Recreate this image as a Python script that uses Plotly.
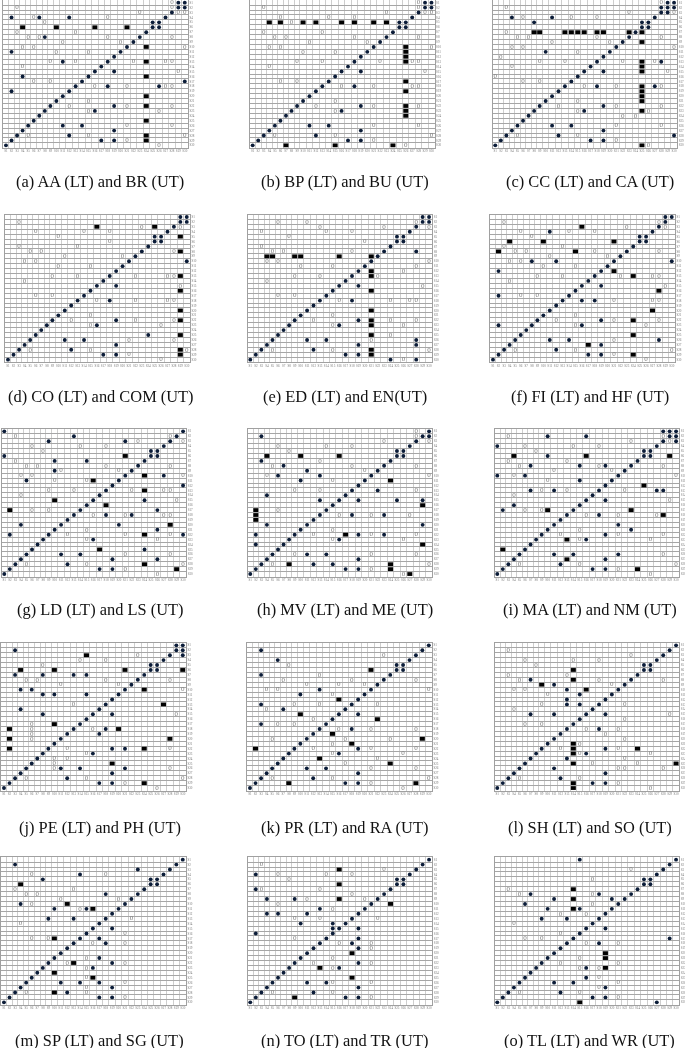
import plotly.graph_objects as go

LABELS = ["S%d" % i for i in range(1, 31)]
COL_WIDTHS = [5.55] * 9 + [6.42] * 21
DIAG = {1:[30],2:[29],3:[28],4:[27],5:[26],6:[25],7:[24],8:[23],9:[22],10:[21],11:[20],12:[19],13:[18],14:[17],15:[16],
        16:[15],17:[14],18:[13],19:[12],20:[11],21:[10],22:[9],23:[8],24:[7],25:[6],26:[5],27:[4],28:[3],29:[2],30:[1]}

CAPTIONS = ["(a) AA (LT) and BR (UT)","(b) BP (LT) and BU (UT)","(c) CC (LT) and CA (UT)",
            "(d) CO (LT) and COM (UT)","(e) ED (LT) and EN(UT)","(f) FI (LT) and HF (UT)",
            "(g) LD (LT) and LS (UT)","(h) MV (LT) and ME (UT)","(i) MA (LT) and NM (UT)",
            "(j) PE (LT) and PH (UT)","(k) PR (LT) and RA (UT)","(l) SH (LT) and SO (UT)",
            "(m) SP (LT) and SG (UT)","(n) TO (LT) and TR (UT)","(o) TL (LT) and WR (UT)"]

# Each mapping: row -> columns
A_DOTS = {1:[29],2:[30],4:[2,7,12],5:[25],6:[26],8:[8],11:[2],13:[11],15:[19],16:[4],17:[30],18:[18,26],19:[2],22:[19],23:[16],26:[11,14],27:[19],28:[12],29:[17,19]}
A_SQ = {6:[4,10,16,21],10:[24],13:[24],16:[24],20:[24],22:[24],25:[24],28:[24],29:[24]}
A_OPEN = {1:[28],2:[3,28],3:[23,29,30],4:[6,18],5:[8],7:[3,13],8:[5,7,18,28],9:[11,20],10:[4,6,30],11:[10,15],13:[9,13,22,27,28],14:[4],15:[29],17:[6,9],18:[16,21,27,28],21:[15],22:[12,21,28],23:[15,26],26:[21,28],28:[5,15,30],29:[21],30:[26]}

B_DOTS = {1:[29],2:[30],5:[25],6:[26],15:[19],18:[18],22:[19],23:[16],26:[11,14],27:[19],28:[12],29:[17,19]}
B_SQ = {5:[4,6,10,12,16,18,21,23],10:[26],11:[26],12:[26],13:[26],17:[26],19:[26],22:[26],23:[26],24:[26],30:[7,15,24]}
B_OPEN = {1:[28],2:[3,28],3:[23,29,30],4:[6,14,18],5:[8],7:[3,13],8:[5,7,18,28],9:[11,20],10:[4,6,30],11:[10,15],13:[9,13,22,27,28],14:[4],15:[29],17:[6,9],18:[16,21,27,28],21:[15],22:[12,21,28],23:[15],26:[21,28],28:[5,15,30],29:[21],30:[26]}

C_DOTS = {1:[29],2:[28,30],3:[29],4:[4,11],5:[8,25],6:[26],11:[10],13:[28],15:[19],18:[18,27],22:[19],23:[16],26:[11,14],27:[19],28:[12,30],29:[17,19]}
C_SQ = {7:[8,9,13,14,15,16,18,19,23,25],9:[25],13:[25],14:[25],15:[25],18:[25],19:[25],20:[25],21:[25],23:[25],30:[25]}
C_OPEN = {1:[28],2:[3],3:[23,30],4:[6,14,18],7:[3],8:[5,7,18,28],9:[11,20],10:[4,6,30],11:[15],12:[2],13:[9,13,22,27],14:[4],15:[29],16:[1],17:[6,9],18:[16,21,28],21:[15],22:[12,21,28],23:[15,26],24:[22,24],26:[21,28],28:[5,15],29:[21],30:[26]}

D_DOTS = {1:[29],2:[30],5:[25],6:[26],10:[30],15:[19],18:[18],22:[19],23:[16],25:[24],26:[11,14],27:[19],28:[12],29:[17,19]}
D_SQ = {3:[16,25],5:[29],8:[29],13:[29],16:[29],20:[29],22:[29],25:[29],28:[29],29:[29]}
D_OPEN = {2:[3],3:[23,29],4:[6,14,18],5:[10],6:[18],7:[3,13],8:[5,7,28],9:[11,20],10:[4,6],11:[10,15],13:[9,13,22,27,28],14:[4],15:[29],17:[6,9],18:[16,22,27,28],21:[15],22:[12,22,28],23:[15,26],26:[21,28],28:[5,15,30],29:[21],30:[26]}

E_DOTS = {1:[29],2:[30],5:[25],6:[26],8:[28],15:[19],18:[18],22:[19],23:[16],26:[11,14,28],27:[19,28],28:[12],29:[17,19],30:[24,28]}
E_SQ = {9:[4,5,9,10,16,21],12:[21],13:[21],16:[21],20:[21],22:[21],23:[21],25:[21],28:[21],29:[21]}
E_OPEN = {2:[6,11,28],3:[13,23,30],4:[3,14,18],5:[8],6:[20],7:[3],8:[5,7,18],10:[4,6,30],11:[10,15,28],12:[26],13:[9,13,22],14:[4],15:[29],17:[6,9],18:[16,24,27,28],21:[15],22:[12,24,28],23:[15,26],25:[24],26:[21],28:[5,15,30],30:[26]}

F_DOTS = {1:[29],4:[11],5:[25],6:[26],10:[8,12,30],12:[2],15:[19],17:[2],18:[16,18],22:[19],23:[2,16],26:[11,14,28],27:[19],28:[12],29:[17,19]}
F_SQ = {3:[16],6:[4,10,21],8:[2,15],12:[21],13:[24],16:[28],20:[27],22:[24],25:[24],27:[17],29:[24]}
F_OPEN = {2:[3,28],3:[23,29],4:[6,14,18],5:[8],7:[3,13],8:[5,7,18,28],9:[11,20],10:[4,6],11:[10,15],13:[9,13,22,27,28],14:[4],15:[29],17:[6,9],18:[21,27,28],21:[15],22:[12,21,28],23:[15,26],26:[21],28:[5,15,30],29:[21],30:[26]}

G_DOTS = {1:[1],2:[13],3:[9,21],5:[25],6:[1,26],7:[10,15],9:[10],10:[27],11:[5],12:[30],15:[24],17:[26],18:[18,22],20:[4,20],21:[26],22:[2,30],23:[16],25:[24],26:[11,14],27:[19,26],28:[12],29:[17,19]}
G_SQ = {6:[21],10:[24],11:[16],13:[24],15:[10],16:[18],17:[2],20:[28],22:[24],25:[17],28:[24],29:[29]}
G_OPEN = {2:[3,28],3:[23,30],4:[6,14,18],5:[8],7:[3],8:[5,7,18,28],9:[11,20],10:[4,6,30],11:[10,15],13:[9,13,22,27,28],14:[4],15:[29],17:[6,9],18:[16,21,27,28],21:[15],22:[12,21,28],23:[15,26],26:[21,28],28:[5,15,30],29:[21],30:[26]}

H_DOTS = {2:[3,30],5:[25],6:[26],7:[3],8:[7],9:[11],10:[6,13],11:[10],13:[22],14:[4],15:[13,19,25,29],18:[18,23],20:[4,29],22:[2,19,23],23:[16],24:[2],26:[11,14],27:[19],28:[12,15],29:[17,19]}
H_SQ = {6:[4,10,16],11:[24],16:[29],17:[2],18:[2],19:[2],22:[17],24:[29],28:[8,24],29:[24],30:[27]}
H_OPEN = {1:[28],2:[28],3:[23,30],4:[6,14,18],5:[8],7:[13],8:[5,18,28],9:[20],10:[4,30],11:[15],13:[9,13,28],17:[6],18:[16,21,27],21:[15],22:[12,21,28],23:[15,26],26:[9,21,28],28:[5,30],29:[21],30:[26]}

I_DOTS = {1:[28,29],2:[10,16,30],3:[30],4:[1],5:[25],6:[10,26],8:[7,15,19],10:[1,6],11:[15],13:[7,11,27,28],15:[19],16:[4],17:[2],18:[18],20:[21],21:[23],22:[19],23:[16],26:[11,14,21],27:[19],28:[12],29:[17,19]}
I_SQ = {6:[4,16,29],12:[25],17:[10,23],18:[28],23:[13],25:[2],27:[13],29:[24]}
I_OPEN = {2:[3,28],3:[23,29],4:[6,14,18],5:[8],7:[3,13],8:[5,18,28],9:[11,20],10:[4,30],11:[10],13:[9,13,22],14:[4],15:[29],17:[6,9],18:[16,21,27],21:[15],22:[12,21,28],23:[15,26],26:[28],28:[5,15,30],29:[21],30:[26]}

J_DOTS = {1:[29],2:[3,30],3:[30],5:[25],6:[26],7:[3,8,13,15],10:[4,6],11:[8,10,15],14:[4],15:[8,19],19:[17],18:[18],22:[19,21],23:[16],26:[11,14,21],27:[19],28:[12],29:[17,19]}
J_SQ = {3:[15],6:[4,10,21,30],10:[24],13:[27],17:[10],18:[2,20],20:[2,28],22:[2,24],25:[19],29:[24]}
J_OPEN = {3:[23],4:[14,18],5:[8],8:[5,7,18,28],9:[11,20],10:[30],13:[13],15:[29],17:[6],18:[6,16],19:[6],20:[6],22:[12,28],23:[15],24:[10,12],25:[10],26:[10,28],28:[5,15,30],29:[21],30:[26]}

K_DOTS = {2:[3],4:[6],5:[25],6:[26],7:[3],10:[13],11:[10],13:[3],14:[7],15:[19],17:[3],18:[18],22:[19],23:[16],26:[11,14],27:[19],28:[12],29:[17,19]}
K_SQ = {6:[21],12:[16],15:[10],16:[22],19:[15],20:[29],21:[18],22:[2],24:[13],25:[24],29:[8,28]}
K_OPEN = {3:[23],5:[8],7:[13],8:[7,18,28],9:[11,16,20],10:[4,6,30],11:[15],13:[9,13,22],14:[4],16:[12],17:[6,9],18:[16,21,28],20:[5,17,24],21:[15],22:[12,21,28],23:[15,26],24:[22],25:[17],26:[21,28],28:[5,15,30],29:[21],30:[26]}

L_DOTS = {5:[25],6:[26],8:[7],9:[11],10:[13],11:[15],12:[13],13:[13,15],15:[7,11,19],18:[18],22:[19],23:[16],24:[13],26:[11],27:[19],28:[12],29:[17,19]}
L_SQ = {6:[14],8:[14],9:[9],10:[16],21:[14],22:[14,24],23:[14],25:[14,30],29:[14],30:[14]}
L_OPEN = {2:[3],3:[23],4:[6,14,18],5:[8],7:[3,13],8:[5,18,28],9:[20],10:[4,6],11:[10],13:[9,22],14:[4],15:[29],16:[22],17:[6,9],18:[16,21],19:[19],20:[22],21:[15],22:[12,21],23:[15,26],24:[22],25:[17,24],26:[21,22,28],28:[5,15],29:[21],30:[26]}

M_DOTS = {2:[3],3:[23],4:[14],5:[8,25],6:[26],8:[18],10:[4],11:[10,15],13:[9,13],15:[19],17:[17],18:[18],21:[17],22:[19],23:[16],26:[11,14,17],27:[19],28:[12],29:[17,19]}
M_SQ = {6:[4],10:[12],11:[16],17:[10],22:[13],24:[10],25:[16],28:[10]}
M_OPEN = {4:[6,18],7:[3,13],8:[5,7],9:[11,20],10:[6],11:[14],13:[22],14:[4],16:[21],17:[6,9],18:[16,21],21:[15],22:[12,21],23:[15],25:[15],26:[21],27:[15],28:[5,15],29:[21]}

N_DOTS = {4:[2],5:[25],6:[26],7:[2],9:[4,9],11:[13],12:[4,6,11],14:[10,15],15:[15,19],16:[2],17:[19],18:[18],19:[19],22:[19],23:[16],26:[11,14],27:[19],28:[12],29:[17,19]}
N_SQ = {3:[16],6:[16],9:[16],10:[24],20:[18],23:[13],25:[18],29:[9]}
N_OPEN = {2:[3],3:[23],4:[6,14,18],5:[8],7:[3,13],8:[18],9:[11,20],10:[6],11:[15],13:[9,13,22],17:[9],18:[16,21],19:[21],21:[15],22:[12,21],23:[15],26:[15,21],28:[5,15],29:[21]}

O_DOTS = {1:[15],5:[25],6:[26],8:[7,18],9:[11,20],10:[6],11:[10,15],13:[9,13],15:[19],17:[29],18:[18],23:[16],25:[16],26:[11,14],27:[19],28:[12],29:[17,19],30:[27]}
O_SQ = {7:[14],9:[14],11:[14],20:[19],21:[19],23:[19],30:[15]}
O_OPEN = {3:[23],5:[17],7:[3],8:[5,17],10:[17],12:[12,16],14:[4],16:[12],17:[6,9],18:[16,21],21:[15],22:[12,21],23:[15,18],25:[18],26:[21],27:[18],28:[5,15],29:[21]}

PANELS = [(A_DOTS,A_SQ,A_OPEN),(B_DOTS,B_SQ,B_OPEN),(C_DOTS,C_SQ,C_OPEN),(D_DOTS,D_SQ,D_OPEN),(E_DOTS,E_SQ,E_OPEN),
          (F_DOTS,F_SQ,F_OPEN),(G_DOTS,G_SQ,G_OPEN),(H_DOTS,H_SQ,H_OPEN),(I_DOTS,I_SQ,I_OPEN),(J_DOTS,J_SQ,J_OPEN),
          (K_DOTS,K_SQ,K_OPEN),(L_DOTS,L_SQ,L_OPEN),(M_DOTS,M_SQ,M_OPEN),(N_DOTS,N_SQ,N_OPEN),(O_DOTS,O_SQ,O_OPEN)]

W, H = 685, 1048
LEFTS = [3.2,249.9,492.5, 5.2,247.5,490.2, 1.5,247.5,494.5, 1.2,247.2,494.5, 1.2,247.5,494.5]
TOPS = [0.2,214.5,428.9,642.9,857.2]
CAP_X = [99.5,344.5,589.5, 100.5,344.5,589.5, 99.5,344.5,589.5, 99.5,344.5,589.5, 99.5,344.5,589.5]
CAP_Y = [182,397,609,827,1040]
ROW_H = 4.92

edges = [0.0]
for w in COL_WIDTHS:
    edges.append(edges[-1] + w)
centres = [(edges[i] + edges[i + 1]) / 2 for i in range(30)]
total_w = edges[-1]
total_h = ROW_H * 30
row_vals = list(range(1, 31))
row_edges = [r + 0.5 for r in range(0, 31)]


def flat(m):
    ys, xs = [], []
    for r, cols in m.items():
        for c in cols:
            ys.append(r)
            xs.append(centres[c - 1])
    return xs, ys


fig = go.Figure()
layout = {}
for i, (dots, squares, opens) in enumerate(PANELS):
    s = "" if i == 0 else str(i + 1)
    xa, ya = "x" + s, "y" + s
    left, top = LEFTS[i], TOPS[i // 3]
    x0, y0 = flat(DIAG)
    x1, y1 = flat(dots)
    fig.add_trace(go.Scatter(x=x0 + x1, y=y0 + y1, xaxis=xa, yaxis=ya, mode="markers", cliponaxis=False,
                             marker=dict(symbol="circle", size=3.9, color="#0b1c38"), hoverinfo="skip"))
    x2, y2 = flat(squares)
    fig.add_trace(go.Scatter(x=x2, y=y2, xaxis=xa, yaxis=ya, mode="markers", cliponaxis=False,
                             marker=dict(symbol="line-ew", size=3.6, color="black", line=dict(width=3.8, color="black")),
                             hoverinfo="skip"))
    x3, y3 = flat(opens)
    fig.add_trace(go.Scatter(x=x3, y=y3, xaxis=xa, yaxis=ya, mode="text", text=["0"] * len(x3), cliponaxis=False,
                             textposition="middle center",
                             textfont=dict(family="Liberation Serif", size=7, color="#7f7f7f"),
                             hoverinfo="skip"))
    common = dict(showline=True, linewidth=0.6, linecolor="#a0a0a0", mirror=True, ticks="", zeroline=False,
                  showgrid=False, tickmode="array", ticktext=LABELS, tickangle=0,
                  tickfont=dict(family="Liberation Serif", size=3.2, color="#777777"), automargin=False)
    layout["xaxis" + s] = dict(common, domain=[left / W, (left + total_w) / W], range=[0, total_w], tickvals=centres,
                               anchor=ya, side="bottom",
                               minor=dict(tickmode="array", tickvals=edges, showgrid=True, gridcolor="#cecece",
                                          gridwidth=0.6, ticks=""))
    layout["yaxis" + s] = dict(common, domain=[1 - (top + total_h) / H, 1 - top / H], range=[30.5, 0.5],
                               tickvals=row_vals, anchor=xa, side="right",
                               minor=dict(tickmode="array", tickvals=row_edges, showgrid=True, gridcolor="#a6a6a6",
                                          gridwidth=0.7, ticks=""))

annotations = [dict(text=CAPTIONS[i], xref="paper", yref="paper", x=CAP_X[i] / W, y=1 - CAP_Y[i // 3] / H,
                    xanchor="center", yanchor="middle", showarrow=False,
                    font=dict(family="Liberation Serif", size=16.4, color="#111111"))
               for i in range(15)]

fig.update_layout(width=W, height=H, margin=dict(l=0, r=0, t=0, b=0), paper_bgcolor="white", plot_bgcolor="white",
                  showlegend=False, annotations=annotations, **layout)
fig.write_html("out.html", config=dict(displayModeBar=False),
               post_script="document.body.style.margin='0';document.querySelectorAll('.main-svg').forEach(function(s){s.style.willChange='transform';});")
